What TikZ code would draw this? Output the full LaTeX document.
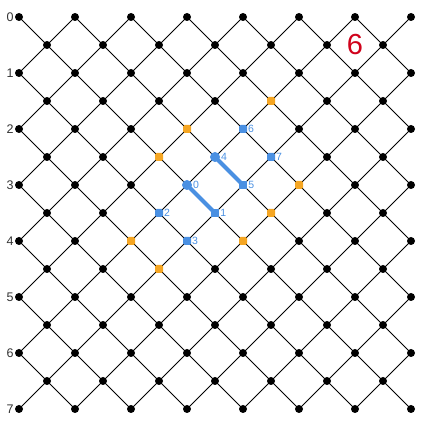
\documentclass[tikz,border=0pt]{standalone}
\usepackage{fontspec}
\setmainfont{Liberation Sans}
\usetikzlibrary{positioning}

\begin{document}
\begin{tikzpicture}[x=28pt, y=28pt, font=\fontsize{12.5}{14}\selectfont]
  \definecolor{sel}{RGB}{74,144,226}
  \definecolor{nbr}{RGB}{245,166,35}
  \definecolor{hot}{RGB}{208,2,27}
  \definecolor{txt}{RGB}{51,51,51}
  \tikzset{
    pt/.style={circle, fill=black, inner sep=0pt, minimum size=8pt},
    nb/.style={rectangle, rounded corners=1.5pt, fill=nbr, inner sep=0pt, minimum size=8pt},
    sq/.style={rectangle, rounded corners=1.5pt, fill=sel, inner sep=0pt, minimum size=8pt},
    hd/.style={rectangle, fill=sel, inner sep=0pt, minimum size=8.5pt},
    org/.style={circle, fill=sel, inner sep=0pt, minimum size=10pt},
    idx/.style={text=sel, font=\fontsize{10.5}{12}\selectfont, inner sep=0.8pt},
    link/.style={draw=sel, line width=4pt, line cap=round},
    edge/.style={draw=black, line width=0.8pt}
  }
  \useasboundingbox (-0.679,0.607) rectangle (14.75,-14.571);
  % --- vertices that get a colour of their own ---
  \foreach \i/\j in {9/3,6/4,5/5,10/6,9/7,4/8,8/8,5/9,
                     6/6,7/7,5/7,6/8,7/5,8/6,8/4,9/5}
    \expandafter\gdef\csname mark-\i-\j\endcsname{};
  % --- lattice points ---
  \foreach \i in {0,...,14}
    \foreach \j in {0,...,14} {
      \pgfmathtruncatemacro{\s}{mod(\i+\j,2)}
      \ifnum\s=0 \coordinate (v-\i-\j) at (\i,-\j); \fi
    }
  % --- edges ---
  \foreach \i in {0,...,13}
    \foreach \j in {0,...,14} {
      \pgfmathtruncatemacro{\s}{mod(\i+\j,2)}
      \pgfmathtruncatemacro{\ii}{\i+1}
      \pgfmathtruncatemacro{\jd}{\j+1}
      \pgfmathtruncatemacro{\ju}{\j-1}
      \ifnum\s=0
        \ifnum\j<14 \draw[edge] (v-\i-\j) -- (v-\ii-\jd); \fi
        \ifnum\j>0 \draw[edge] (v-\i-\j) -- (v-\ii-\ju); \fi
      \fi
    }
  % --- plain points ---
  \foreach \i in {0,...,14}
    \foreach \j in {0,...,14} {
      \pgfmathtruncatemacro{\s}{mod(\i+\j,2)}
      \ifnum\s=0
        \ifcsname mark-\i-\j\endcsname\else
          \node[pt] (p-\i-\j) at (v-\i-\j) {};
        \fi
      \fi
    }
  % --- row numbers ---
  \foreach \r in {0,...,7} {
    \pgfmathtruncatemacro{\j}{2*\r}
    \node[text=txt, left=1pt of p-0-\j, inner sep=0pt] (row-\r) {\r};
  }
  % --- neighbours ---
  \foreach \i/\j in {9/3,6/4,5/5,10/6,9/7,4/8,8/8,5/9}
    \node[nb] (n-\i-\j) at (v-\i-\j) {};
  % --- moves ---
  \draw[link] (v-6-6) -- (v-7-7);
  \draw[link] (v-7-5) -- (v-8-6);
  % --- candidate cells ---
  \node[org] (c0) at (v-6-6) {};
  \node[hd]  (c1) at (v-7-7) {};
  \node[sq]  (c2) at (v-5-7) {};
  \node[sq]  (c3) at (v-6-8) {};
  \node[org] (c4) at (v-7-5) {};
  \node[hd]  (c5) at (v-8-6) {};
  \node[sq]  (c6) at (v-8-4) {};
  \node[sq]  (c7) at (v-9-5) {};
  \foreach \k in {0,...,7}
    \node[idx, right=0pt of c\k] (l\k) {\k};
  % --- count ---
  \node[text=hot, font=\fontsize{29}{31}\selectfont] (count) at (12,-1) {6};
\end{tikzpicture}
\end{document}
